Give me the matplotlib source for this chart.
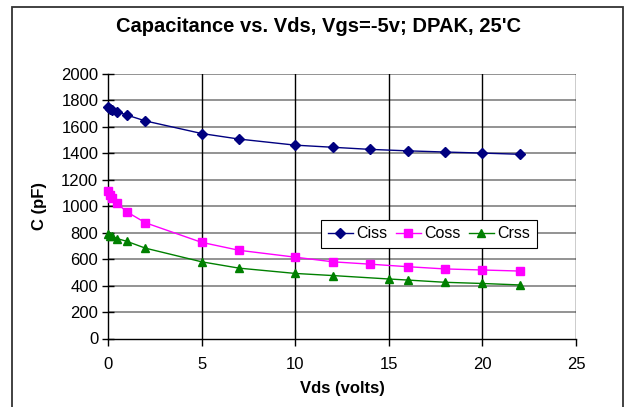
import matplotlib
matplotlib.use("Agg")
import matplotlib.pyplot as plt
from matplotlib.patches import Rectangle

plt.rcParams['font.family'] = ['Liberation Sans', 'DejaVu Sans']

# Data (Vds in volts, C in pF)
vds_ciss = [0, 0.1, 0.2, 0.5, 1, 2, 5, 7, 10, 12, 14, 16, 18, 20, 22]
ciss = [1750, 1738, 1730, 1714, 1690, 1645, 1550, 1508, 1462, 1446, 1430, 1419, 1410, 1402, 1393]

vds_coss = [0, 0.1, 0.2, 0.5, 1, 2, 5, 7, 10, 12, 14, 16, 18, 20, 22]
coss = [1115, 1085, 1062, 1021, 958, 875, 727, 667, 615, 580, 562, 543, 526, 518, 510]

vds_crss = [0, 0.1, 0.2, 0.5, 1, 2, 5, 7, 10, 12, 15, 16, 18, 20, 22]
crss = [790, 778, 772, 755, 735, 683, 580, 532, 492, 476, 450, 442, 425, 416, 405]

x_ticks = [0, 5, 10, 15, 20, 25]
y_ticks = list(range(0, 2001, 200))

fig = plt.figure(figsize=(6.28, 4.07), dpi=100)
ax = fig.add_axes([108 / 628, 1 - 338.5 / 407, (576 - 108) / 628, (338.5 - 74) / 407])

# outer chart border
fig.patches.append(Rectangle((12 / 628, -0.05), (623 - 12) / 628, 1.05 - 6.5 / 407,
                             transform=fig.transFigure, fill=False,
                             edgecolor='#333333', linewidth=1.3))

ax.set_xlim(0, 25)
ax.set_ylim(0, 2000)
ax.set_xticks(x_ticks)
ax.set_yticks(y_ticks)

for y in y_ticks[1:]:
    ax.axhline(y, color='#808080', linewidth=1.2, zorder=1)
for x in x_ticks[1:]:
    ax.axvline(x, color='black', linewidth=1.0, zorder=1)

ax.plot(vds_ciss, ciss, color='#000080', marker='D', markersize=5, linewidth=1,
        label='Ciss', zorder=3, clip_on=False)
ax.plot(vds_coss, coss, color='#FF00FF', marker='s', markersize=6, linewidth=1,
        label='Coss', zorder=3, clip_on=False)
ax.plot(vds_crss, crss, color='#008000', marker='^', markersize=6, linewidth=1,
        label='Crss', zorder=3, clip_on=False)

for s in ['top', 'right']:
    ax.spines[s].set_visible(False)
ax.spines['left'].set_linewidth(1)
ax.spines['bottom'].set_linewidth(1)
ax.tick_params(direction='out', length=5, labelsize=12, width=1)
ax.tick_params(axis='x', pad=8)
ax.tick_params(axis='y', direction='inout', length=8, pad=3)

ax.set_xlabel('Vds (volts)', fontsize=12, fontweight='bold', labelpad=7)
ax.set_ylabel('C (pF)', fontsize=12, fontweight='bold', labelpad=10)
fig.text(318 / 628, 1 - 27 / 407, "Capacitance vs. Vds, Vgs=-5v; DPAK, 25'C",
         ha='center', va='center', fontsize=14.5, fontweight='bold')

leg = ax.legend(loc='center', bbox_to_anchor=((429 - 108) / 468, (338.5 - 234) / 264.5),
                ncol=3, fontsize=11.5, frameon=True, fancybox=False, framealpha=1,
                handlelength=1.6, handletextpad=0.2, columnspacing=0.5, borderpad=0.4)
leg.get_frame().set_edgecolor('black')
leg.get_frame().set_linewidth(0.8)

fig.savefig('out.png', dpi=100)
